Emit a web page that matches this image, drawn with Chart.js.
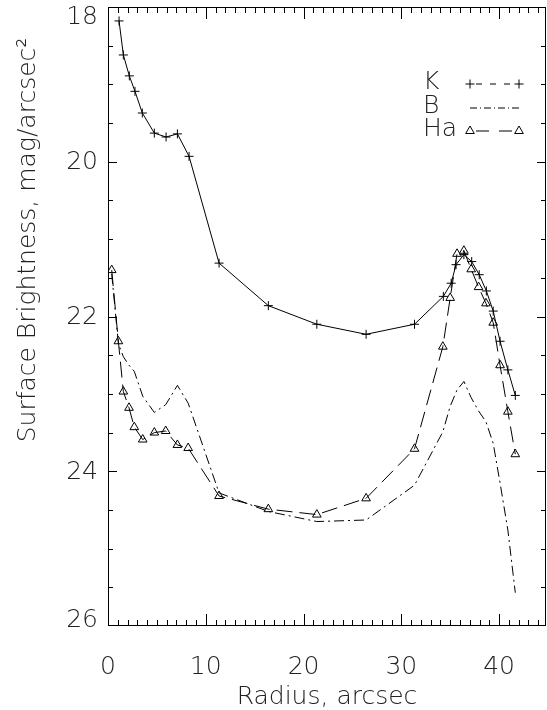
<!DOCTYPE html>
<html>
<head>
<meta charset="utf-8">
<script src="https://cdn.jsdelivr.net/npm/chart.js@4.4.1/dist/chart.umd.min.js"></script>
<style>
  body { margin: 0; background: #fff; }
  #wrap { width: 547px; height: 710px; position: relative; }
</style>
</head>
<body>
<div id="wrap"><canvas id="profile"></canvas></div>
<script>
// surface brightness profiles
const radiusK = [1.13, 1.57, 2.18, 2.76, 3.51, 4.74, 5.94, 7.1, 8.29, 11.36, 16.4, 21.36, 26.4, 31.35,
  34.3, 35.1, 35.6, 36.4, 37.2, 37.97, 38.7, 39.4, 40.1, 40.9, 41.66];
const magK = [18.18, 18.62, 18.89, 19.09, 19.37, 19.63, 19.68, 19.64, 19.93, 21.31, 21.86, 22.10, 22.23, 22.10,
  21.74, 21.57, 21.33, 21.20, 21.29, 21.46, 21.67, 21.93, 22.32, 22.69, 23.02];

const radiusHa = [0.38, 1.06, 1.57, 2.15, 2.69, 3.55, 4.74, 5.9, 7.1, 8.2, 11.36, 16.4, 21.36, 26.4, 31.35,
  34.25, 35.0, 35.7, 36.4, 37.15, 37.9, 38.66, 39.4, 40.1, 40.9, 41.66];
const magHa = [21.40, 22.32, 22.97, 23.18, 23.43, 23.59, 23.50, 23.48, 23.66, 23.70, 24.32, 24.49, 24.56, 24.35, 23.71,
  22.39, 21.76, 21.19, 21.15, 21.39, 21.62, 21.83, 22.08, 22.63, 23.23, 23.78];

// B shares the Ha radii
const radiusB = radiusHa;
const magB = [21.45, 22.35, 22.52, 22.63, 22.71, 23.03, 23.24, 23.14, 22.89, 23.12, 24.28, 24.52, 24.65, 24.63, 24.18,
  23.49, 23.16, 22.95, 22.84, 23.05, 23.22, 23.36, 23.64, 24.15, 24.76, 25.57];

const xTicks = [0, 10, 20, 30, 40];
const yTicks = [18, 20, 22, 24, 26];
const legendNames = ['K', 'B', 'Ha'];
const xTitle = 'Radius, arcsec';
const yTitle = 'Surface Brightness, mag/arcsec\u00B2';

const FONT = '200 25px "DejaVu Sans"';
const INK = '#222';
const DASH_B = [10, 4, 2, 4];
const DASH_HA = [16, 7];

function pairs(xs, ys) {
  return xs.map((x, i) => ({ x: x, y: ys[i] }));
}

function marker(ctx, style, x, y) {
  ctx.beginPath();
  if (style === 'cross') {
    ctx.moveTo(x - 4.5, y); ctx.lineTo(x + 4.5, y);
    ctx.moveTo(x, y - 4.5); ctx.lineTo(x, y + 4.5);
  } else if (style === 'triangle') {
    // same shape as chart.js 'triangle' with radius 5, but hollow
    const r = 5;
    ctx.moveTo(x, y - r);
    ctx.lineTo(x + r * Math.sin(Math.PI * 2 / 3), y - r * Math.cos(Math.PI * 2 / 3));
    ctx.lineTo(x - r * Math.sin(Math.PI * 2 / 3), y - r * Math.cos(Math.PI * 2 / 3));
    ctx.closePath();
  }
  ctx.stroke();
}

// IDL-like box: inward ticks on all sides, tick labels, titles, legend
const boxPlugin = {
  id: 'box',
  afterDraw(chart) {
    const ctx = chart.ctx, a = chart.chartArea;
    const xs = chart.scales.x, ys = chart.scales.y;
    ctx.save();
    ctx.strokeStyle = '#000';
    ctx.lineWidth = 1;
    ctx.strokeRect(a.left + 0.5, a.top + 0.5, a.right - a.left - 1, a.bottom - a.top - 1);

    ctx.beginPath();
    for (let v = 1; v < xs.max; v++) {
      const px = Math.round(xs.getPixelForValue(v)) + 0.5;
      const len = v % 10 === 0 ? 12 : 6;
      ctx.moveTo(px, a.bottom); ctx.lineTo(px, a.bottom - len);
      ctx.moveTo(px, a.top); ctx.lineTo(px, a.top + len);
    }
    for (let v = ys.min + 0.5; v < ys.max; v += 0.5) {
      const py = Math.round(ys.getPixelForValue(v)) + 0.5;
      const len = v % 2 === 0 ? 9 : 5;
      ctx.moveTo(a.left, py); ctx.lineTo(a.left + len, py);
      ctx.moveTo(a.right, py); ctx.lineTo(a.right - len, py);
    }
    ctx.stroke();

    // tick labels
    ctx.fillStyle = INK;
    ctx.font = FONT;
    ctx.textAlign = 'center';
    ctx.textBaseline = 'middle';
    xTicks.forEach(v => ctx.fillText(String(v), xs.getPixelForValue(v), 667));
    ctx.textAlign = 'right';
    yTicks.forEach(v => {
      let py = ys.getPixelForValue(v) + 1;
      if (py < 17) py = 17;
      if (py > 620) py = 620;
      ctx.fillText(String(v), 98, py);
    });

    // axis titles
    ctx.textAlign = 'center';
    ctx.fillText(xTitle, (a.left + a.right) / 2, 697);
    ctx.save();
    ctx.translate(28, 240);
    ctx.rotate(-Math.PI / 2);
    ctx.fillText(yTitle, 0, 0);
    ctx.restore();

    // legend
    const rows = [
      { y: 84, dash: [6, 8], mark: 'cross' },
      { y: 108, dash: [7, 3, 1, 3], mark: null },
      { y: 131, dash: [13, 10], mark: 'triangle' }
    ];
    ctx.textAlign = 'left';
    legendNames.forEach((name, i) => {
      const r = rows[i];
      ctx.fillText(name, 423, r.y - 2);
      ctx.setLineDash(r.dash);
      ctx.beginPath();
      ctx.moveTo(r.mark ? 476 : 470, r.y);
      ctx.lineTo(r.mark ? 514 : 520, r.y);
      ctx.stroke();
      ctx.setLineDash([]);
      if (r.mark) {
        marker(ctx, r.mark, 470, r.y);
        marker(ctx, r.mark, 519, r.y);
      }
    });
    ctx.restore();
  }
};

new Chart(document.getElementById('profile'), {
  type: 'line',
  data: {
    datasets: [{
      label: 'K',
      data: pairs(radiusK, magK),
      borderColor: '#000',
      borderWidth: 1,
      pointStyle: 'cross',
      pointRadius: 4.5,
      pointBorderColor: '#000',
      pointBorderWidth: 1,
      tension: 0
    }, {
      label: 'B',
      data: pairs(radiusB, magB),
      borderColor: '#000',
      borderWidth: 1,
      borderDash: DASH_B,
      pointRadius: 0,
      tension: 0
    }, {
      label: 'Ha',
      data: pairs(radiusHa, magHa),
      borderColor: '#000',
      borderWidth: 1,
      borderDash: DASH_HA,
      pointStyle: 'triangle',
      pointRadius: 5,
      pointBorderColor: '#000',
      pointBackgroundColor: 'rgba(0,0,0,0)',
      pointBorderWidth: 1,
      tension: 0
    }]
  },
  options: {
    responsive: true,
    maintainAspectRatio: false,
    animation: false,
    layout: { autoPadding: false, padding: { top: 7, right: 1, bottom: 0, left: 0 } },
    plugins: { legend: { display: false }, tooltip: { enabled: false } },
    scales: {
      x: {
        type: 'linear',
        min: 0,
        max: 44.8,
        grid: { display: false },
        border: { display: false },
        ticks: { display: false },
        afterFit(scale) { scale.height = 84; }
      },
      y: {
        type: 'linear',
        min: 18,
        max: 26,
        reverse: true,
        grid: { display: false },
        border: { display: false },
        ticks: { display: false },
        afterFit(scale) { scale.width = 108; }
      }
    }
  },
  plugins: [boxPlugin]
});
</script>
</body>
</html>
